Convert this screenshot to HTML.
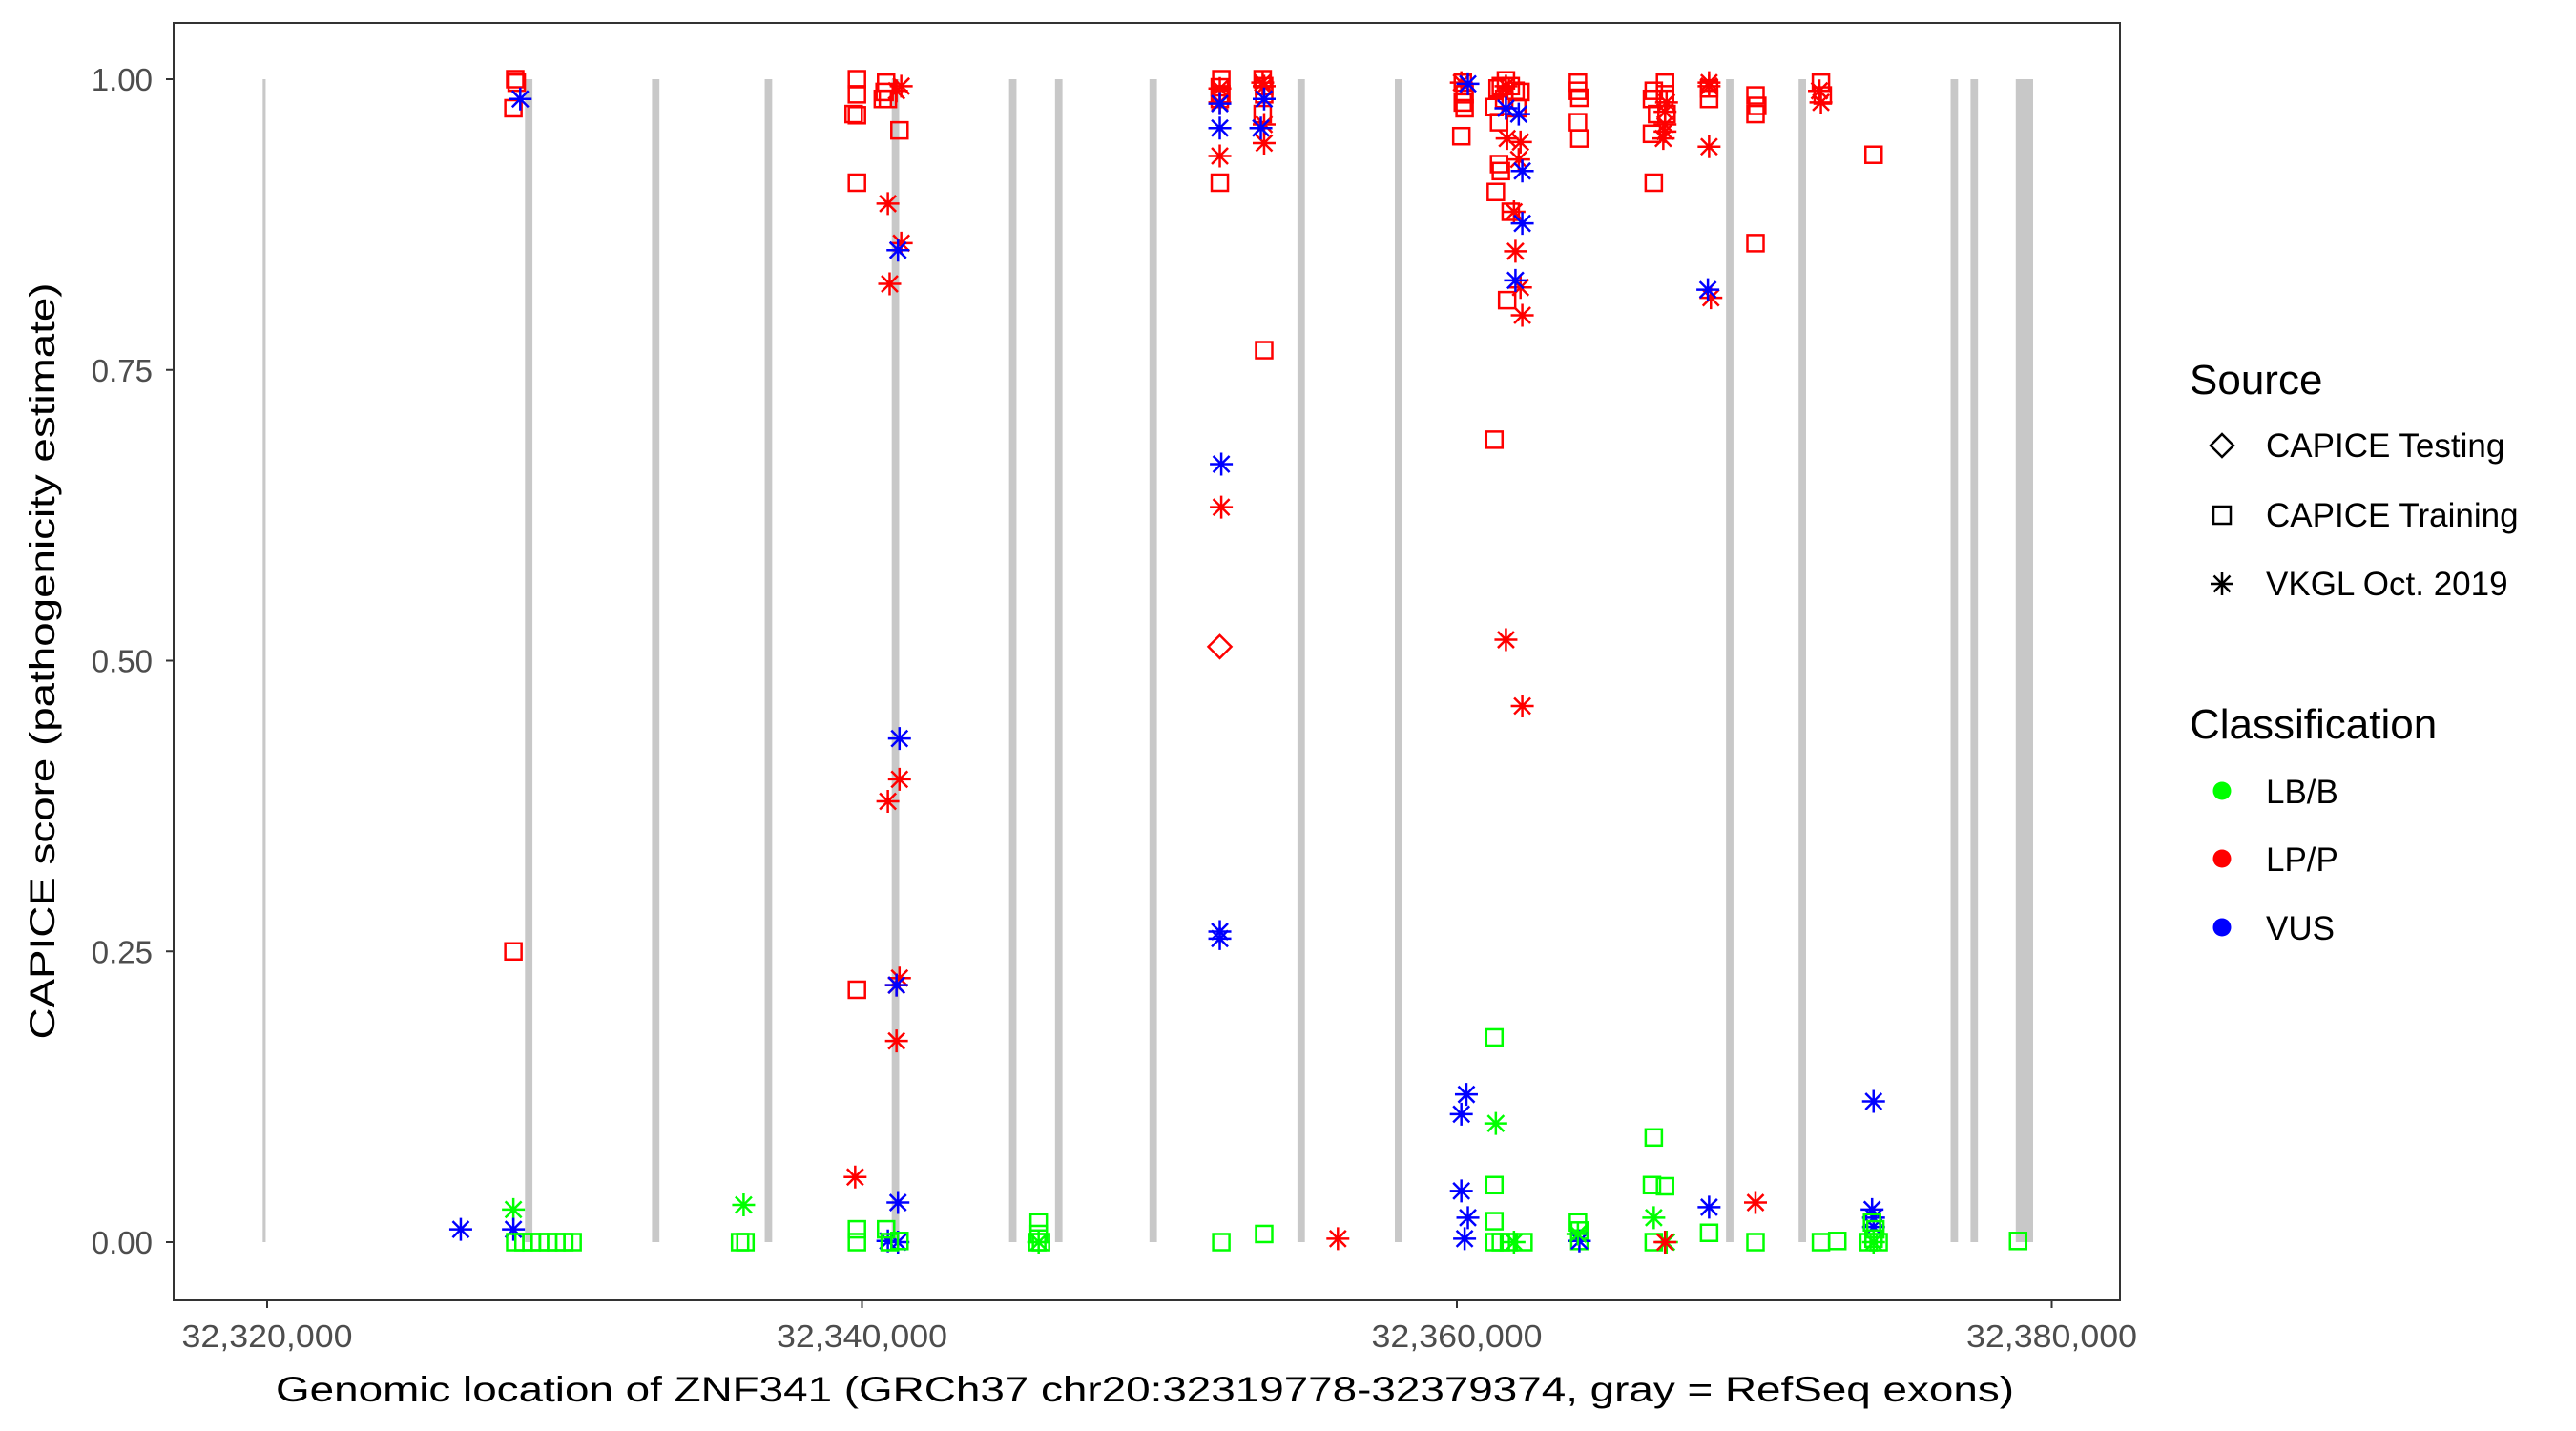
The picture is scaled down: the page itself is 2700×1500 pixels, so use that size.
<!DOCTYPE html>
<html><head><meta charset="utf-8">
<style>
html,body{margin:0;padding:0;background:#fff;}
svg{display:block;font-family:"Liberation Sans",Arial,sans-serif;}
</style></head>
<body>
<svg id="chart" width="2700" height="1500" viewBox="0 0 2700 1500" xmlns="http://www.w3.org/2000/svg">
<rect x="0" y="0" width="2700" height="1500" fill="#fff"/>
<g id="exons"></g>
<g id="points"></g>
<rect x="182" y="24" width="2040" height="1339" fill="none" stroke="#333" stroke-width="2"/>
<g id="yaxis"></g>
<g id="xaxis"></g>
<text x="1200" y="1469" font-size="37" text-anchor="middle" textLength="1822" lengthAdjust="spacingAndGlyphs" fill="#000">Genomic location of ZNF341 (GRCh37 chr20:32319778-32379374, gray = RefSeq exons)</text>
<text transform="translate(57,693) rotate(-90)" font-size="37" text-anchor="middle" textLength="793" lengthAdjust="spacingAndGlyphs" fill="#000">CAPICE score (pathogenicity estimate)</text>
<g id="legend">
<text x="2295" y="413" font-size="44" fill="#000">Source</text>
<g>
<path d="M2329,455 L2341,467 L2329,479 L2317,467 Z" fill="none" stroke="#000" stroke-width="2.5"/>
<text x="2375" y="479" font-size="35" fill="#000">CAPICE Testing</text></g>
<g>
<rect x="2320" y="531" width="18" height="18" fill="none" stroke="#000" stroke-width="2.5"/>
<text x="2375" y="552" font-size="35" fill="#000">CAPICE Training</text></g>
<g>
<path d="M2329,600 V624 M2317,612 H2341 M2320.5,603.5 L2337.5,620.5 M2337.5,603.5 L2320.5,620.5" stroke="#000" stroke-width="2.5"/>
<text x="2375" y="624" font-size="35" fill="#000">VKGL Oct. 2019</text></g>
<text x="2295" y="774" font-size="44" fill="#000">Classification</text>
<g><circle cx="2329" cy="829" r="9.5" fill="#00ff00"/><text x="2375" y="842" font-size="35" fill="#000">LB/B</text></g>
<g><circle cx="2329" cy="900" r="9.5" fill="#ff0000"/><text x="2375" y="913" font-size="35" fill="#000">LP/P</text></g>
<g><circle cx="2329" cy="972" r="9.5" fill="#0000ff"/><text x="2375" y="985" font-size="35" fill="#000">VUS</text></g>
</g>
</svg>
<script>
const BASE_BP = 32320000;
const exonStart = [32319850,32328670,32332940,32336730,32341000,32344945,32346490,32349665,32354640,32357915,32369050,32371490,32376600,32377270,32378790];
const exonEnd   = [32319950,32328920,32333190,32336980,32341250,32345195,32346740,32349915,32354890,32358165,32369300,32371740,32376850,32377520,32379374];
const xTicks = [32320000,32340000,32360000,32380000];
const xTickLabels = ["32,320,000","32,340,000","32,360,000","32,380,000"];
const yTicks = [0,0.25,0.5,0.75,1];
const yTickLabels = ["0.00","0.25","0.50","0.75","1.00"];
// positions as kb offset from BASE_BP
const posKb = [
6.51,8.28,8.28,8.34,8.39,8.28,8.28,8.51,8.34,8.62,8.89,9.17,9.45,9.72,9.99,10.27,
16.02,15.90,16.08,
19.83,19.83,19.72,19.83,19.83,19.83,19.77,19.83,19.83,
20.81,20.76,20.87,20.70,21.26,
21.16,21.32,20.87,20.93,21.32,20.87,21.26,21.26,21.16,21.16,
21.21,21.26,21.16,21.21,20.87,21.21,
20.81,21.26,20.93,
25.94,25.94,25.89,26.02,25.94,
32.08,32.03,32.08,32.03,32.03,
32.03,32.03,32.03,32.08,
32.03,32.03,32.08,32.03,32.03,
32.03,32.08,
33.47,33.52,33.52,33.47,33.52,
33.47,33.52,33.52,33.52,
33.52,33.41,33.52,36.00,
40.20,40.26,40.20,40.26,40.15,40.15,
40.37,40.32,40.15,40.15,40.37,40.26,
41.26,41.26,41.26,41.26,
41.37,41.48,41.65,41.81,41.97,42.14,41.59,41.26,42.03,41.42,41.42,41.48,41.31,41.81,41.69,41.26,
41.65,41.69,42.14,42.08,41.92,41.97,42.14,42.20,41.65,42.20,
41.65,42.08,42.20,42.20,41.97,
41.31,41.92,41.48,41.75,42.24,
44.07,44.07,44.12,44.07,44.12,44.07,44.12,44.12,44.12,44.07,
46.62,46.56,47.00,47.00,46.73,46.56,46.62,47.05,
47.05,47.00,47.00,47.00,46.94,
46.62,46.56,47.00,46.62,46.62,47.05,47.00,
48.48,48.48,48.48,48.54,48.48,48.48,48.44,48.48,48.48,
50.04,50.10,50.04,50.04,50.04,50.04,
52.24,52.30,52.19,52.24,52.24,52.79,
54.01,54.01,53.96,54.01,54.01,53.96,54.07,54.01,53.84,54.18,54.01,
58.87];
const scores = [
0.011,0.028,0.011,1.0,0.997,0.975,0.250,0.983,0,0,0,0,0,0,0,0,
0.032,0,0,
1.0,0.987,0.970,0.969,0.911,0.217,0.056,0.011,0,
0.997,0.989,0.983,0.983,0.956,
0.990,0.994,0.893,0.824,0.859,0.379,0.398,0.227,0.221,0.173,
0.853,0.433,0.221,0.034,0.001,0,
0.011,0.001,0,
0.017,0.007,0,0,0,
1.0,0.993,0.987,0.983,0.911,
0.992,0.980,0.934,0.632,
0.979,0.958,0.669,0.267,0.261,
0.512,0,
1.0,0.994,0.987,0.970,0.767,
0.997,0.994,0.961,0.945,
0.983,0.958,0.007,0.003,
0.997,0.987,0.980,0.975,0.951,0.997,
0.996,0.127,0.110,0.044,0.021,0.003,
0.176,0.049,0.018,0,
0.992,0.994,0.999,0.994,0.990,0.989,0.983,0.976,0.975,0.963,0.927,0.921,0.903,0.886,0.810,0.690,
0.994,0.949,0.946,0.931,0.886,0.852,0.821,0.797,0.518,0.461,
0.975,0.970,0.921,0.876,0.827,
0.102,0,0,0,0,
0.997,0.990,0.984,0.963,0.949,0.017,0.010,0.001,0.001,0.007,
0.990,0.983,0.997,0.987,0.970,0.953,0.911,0.970,
0.980,0.972,0.961,0.955,0.949,
0.090,0.049,0.048,0,0.021,0,0,
0.997,0.994,0.942,0.812,0.992,0.983,0.819,0.030,0.008,
0.986,0.977,0.970,0.859,0.034,0,
0.997,0.986,0.990,0.980,0,0.001,
0.935,0.121,0.028,0.021,0.013,0.017,0.011,0.003,0,0,0,
0.001];
const sources = (
"VVVSSSSVSSSSSSSS"+"VSS"+"SSSSSSVSS"+"SSSSS"+"VVVVVVVVVV"+"VVVVVV"+"SSS"+"SSSSV"+
"SSSSS"+"VVVV"+"VVVVV"+"TS"+"SSSSS"+"VVVV"+"VVSV"+"SSSSSV"+"VVVVVV"+"SSSS"+
"SSSSSSSSSSSSSSSS"+"VVVVVVVVVV"+"VVVVV"+"VVSSS"+"SSSSSSSSVV"+"SSSSSSSS"+"VVVVV"+
"SSSSVVV"+"VVVVSSVVS"+"SSSSVS"+"SSVVSS"+"SVVVVSSSSSV"+"S").split("");
const classes = (
"UBUPPPPUBBBBBBBB"+"BBB"+"PPPPPPPBB"+"PPPPP"+"PPPPPPPPPP"+"UUUUUU"+"BBB"+"BBBBB"+
"PPPPP"+"PPPP"+"UUUUU"+"PB"+"PPPPP"+"PPPP"+"UUBP"+"PPPPPP"+"UUUUUU"+"BBBB"+
"PPPPPPPPPPPPPPPP"+"PPPPPPPPPP"+"UUUUU"+"BBBBB"+"PPPPPBBBUB"+"PPPPPPPP"+"PPPPP"+
"BBBBBBP"+"PPPPPPUUB"+"PPPPPB"+"PPPPBB"+"PUUUUBBBBBB"+"B").split("");

const NS = "http://www.w3.org/2000/svg";
const PX_LEFT = 280, PX_PER_BP = 623.5/20000, Y0 = 1302, Y_PER = 1219;
function xScale(bp){ return PX_LEFT + (bp - BASE_BP) * PX_PER_BP; }
function yScale(v){ return Y0 - v * Y_PER; }
const colorOf = {B:"#00ff00", P:"#ff0000", U:"#0000ff"};

const exG = document.getElementById("exons");
for (let i = 0; i < exonStart.length; i++) {
  const r = document.createElementNS(NS, "rect");
  const x1 = xScale(exonStart[i]), x2 = xScale(exonEnd[i]);
  const w = Math.max(3, x2 - x1);
  r.setAttribute("x", x1); r.setAttribute("width", w);
  r.setAttribute("y", yScale(1)); r.setAttribute("height", yScale(0) - yScale(1));
  r.setAttribute("fill", "#c8c8c8");
  
  
  exG.appendChild(r);
}

const yG = document.getElementById("yaxis");
for (let i = 0; i < yTicks.length; i++) {
  const y = yScale(yTicks[i]);
  const t = document.createElementNS(NS, "line");
  t.setAttribute("x1", 174); t.setAttribute("x2", 182); t.setAttribute("y1", y); t.setAttribute("y2", y);
  t.setAttribute("stroke", "#333"); t.setAttribute("stroke-width", "2");
  
  
  yG.appendChild(t);
  const l = document.createElementNS(NS, "text");
  l.setAttribute("x", 160); l.setAttribute("y", y + 12);
  l.setAttribute("text-anchor", "end"); l.setAttribute("font-size", "33"); l.setAttribute("fill", "#4d4d4d");
  l.textContent = yTickLabels[i];
  
  
  yG.appendChild(l);
}
const xG = document.getElementById("xaxis");
for (let i = 0; i < xTicks.length; i++) {
  const x = xScale(xTicks[i]);
  const t = document.createElementNS(NS, "line");
  t.setAttribute("x1", x); t.setAttribute("x2", x); t.setAttribute("y1", 1363); t.setAttribute("y2", 1371);
  t.setAttribute("stroke", "#333"); t.setAttribute("stroke-width", "2");
  
  
  xG.appendChild(t);
  const l = document.createElementNS(NS, "text");
  l.setAttribute("x", x); l.setAttribute("y", 1412);
  l.setAttribute("text-anchor", "middle"); l.setAttribute("font-size", "33"); l.setAttribute("fill", "#4d4d4d");
  l.setAttribute("textLength", "179"); l.setAttribute("lengthAdjust", "spacingAndGlyphs");
  l.textContent = xTickLabels[i];
  
  
  xG.appendChild(l);
}

const pG = document.getElementById("points");
for (let i = 0; i < scores.length; i++) {
  const cx = xScale(BASE_BP + posKb[i] * 1000), cy = yScale(scores[i]);
  const col = colorOf[classes[i]] || "#000";
  let el;
  if (sources[i] === "S") {
    el = document.createElementNS(NS, "rect");
    el.setAttribute("x", cx - 8.5); el.setAttribute("y", cy - 8.5);
    el.setAttribute("width", 17); el.setAttribute("height", 17);
    el.setAttribute("fill", "none");
  } else if (sources[i] === "T") {
    el = document.createElementNS(NS, "path");
    el.setAttribute("d", `M${cx},${cy-12} L${cx+12},${cy} L${cx},${cy+12} L${cx-12},${cy} Z`);
    el.setAttribute("fill", "none");
  } else {
    el = document.createElementNS(NS, "path");
    const r = 12, d = 8.5;
    el.setAttribute("d", `M${cx},${cy-r} V${cy+r} M${cx-r},${cy} H${cx+r} M${cx-d},${cy-d} L${cx+d},${cy+d} M${cx+d},${cy-d} L${cx-d},${cy+d}`);
  }
  el.setAttribute("stroke", col); el.setAttribute("stroke-width", "2.5");
  
  
  pG.appendChild(el);
}
</script>
</body></html>
